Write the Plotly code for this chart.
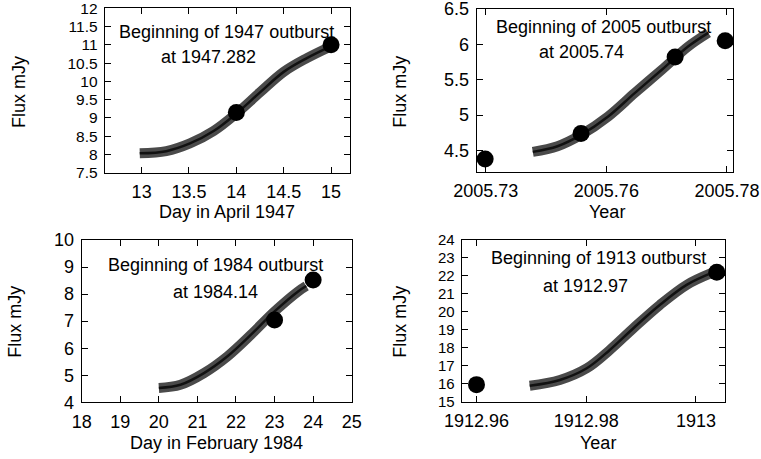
import plotly.graph_objects as go

# ---------------- data ----------------
# Panel 1: 1947
p1_obs_x = [14, 15]
p1_obs_y = [9.15, 11.0]
p1_mod_x = [12.98, 13.26, 13.51, 13.76, 14.0, 14.25, 14.5, 14.74, 14.99]
p1_mod_y = [8.03, 8.09, 8.30, 8.64, 9.12, 9.70, 10.26, 10.63, 10.95]
p1_xticks = [13, 13.5, 14, 14.5, 15]
p1_yticks = [7.5, 8, 8.5, 9, 9.5, 10, 10.5, 11, 11.5, 12]

# Panel 2: 2005
p2_obs_x = [2005.7349, 2005.7508, 2005.7664, 2005.7747]
p2_obs_y = [4.38, 4.74, 5.82, 6.05]
p2_mod_x = [2005.7428, 2005.7469, 2005.7508, 2005.7553, 2005.7597, 2005.7642, 2005.7686, 2005.7719]
p2_mod_y = [4.48, 4.56, 4.72, 4.98, 5.31, 5.64, 5.97, 6.16]
p2_xtickvals = [2005.735, 2005.755, 2005.775]
p2_xticktext = ["2005.73", "2005.76", "2005.78"]
p2_yticks = [4.5, 5, 5.5, 6, 6.5]

# Panel 3: 1984
p3_obs_x = [23, 24]
p3_obs_y = [7.04, 8.52]
p3_mod_x = [20.0, 20.56, 21.17, 21.78, 22.39, 23.0, 23.61, 23.82]
p3_mod_y = [4.53, 4.65, 5.08, 5.70, 6.50, 7.36, 8.10, 8.30]
p3_xticks = [18, 19, 20, 21, 22, 23, 24, 25]
p3_yticks = [4, 5, 6, 7, 8, 9, 10]

# Panel 4: 1913
p4_obs_x = [1912.96, 1913.0038]
p4_obs_y = [15.95, 22.2]
p4_mod_x = [1912.9697, 1912.9752, 1912.9801, 1912.9843, 1912.9886, 1912.9934, 1912.9983, 1913.0030]
p4_mod_y = [15.89, 16.21, 16.86, 17.88, 19.09, 20.38, 21.50, 22.18]
p4_xtickvals = [1912.96, 1912.98, 1913.0]
p4_xticktext = ["1912.96", "1912.98", "1913"]
p4_yticks = [15, 16, 17, 18, 19, 20, 21, 22, 23, 24]

W, H = 761, 459
FONT = "Liberation Sans, Arial, Helvetica, sans-serif"
FS = 18

def px(x):
    return x / W

def py(y):
    return 1 - y / H

panels = [
    dict(obs=(p1_obs_x, p1_obs_y), mod=(p1_mod_x, p1_mod_y),
         xdom=(104.7, 350), ydom=(8.3, 172.7), xr=[12.61, 15.2], yr=[7.5, 12],
         xtv=p1_xticks, xtt=[str(v) for v in p1_xticks], ytv=p1_yticks, yfs=15.5,
         xtitle="Day in April 1947", xt_pos=(226.7, 211.7), yt_pos=(18.3, 91.7),
         t1="Beginning of 1947 outburst", t1_pos=(226.7, 31.7),
         t2="at 1947.282", t2_pos=(208, 57.3)),
    dict(obs=(p2_obs_x, p2_obs_y), mod=(p2_mod_x, p2_mod_y),
         xdom=(476.7, 733), ydom=(8.8, 171.7), xr=[2005.7335, 2005.776], yr=[4.2, 6.5],
         xtv=p2_xtickvals, xtt=p2_xticktext, ytv=p2_yticks, yfs=18,
         xtitle="Year", xt_pos=(606.7, 211.7), yt_pos=(400, 91.7),
         t1="Beginning of 2005 outburst", t1_pos=(603, 26.7),
         t2="at 2005.74", t2_pos=(581.7, 52.3)),
    dict(obs=(p3_obs_x, p3_obs_y), mod=(p3_mod_x, p3_mod_y),
         xdom=(81.7, 351.7), ydom=(240, 402.3), xr=[18, 25], yr=[4, 10],
         xtv=p3_xticks, xtt=[str(v) for v in p3_xticks], ytv=p3_yticks, yfs=18,
         xtitle="Day in February 1984", xt_pos=(216.7, 443.3), yt_pos=(15, 321.7),
         t1="Beginning of 1984 outburst", t1_pos=(215, 265),
         t2="at 1984.14", t2_pos=(215, 291.7)),
    dict(obs=(p4_obs_x, p4_obs_y), mod=(p4_mod_x, p4_mod_y),
         xdom=(461.7, 725), ydom=(240, 401.7), xr=[1912.9573, 1913.0053], yr=[15, 24],
         xtv=p4_xtickvals, xtt=p4_xticktext, ytv=p4_yticks, yfs=15,
         xtitle="Year", xt_pos=(598.3, 443.3), yt_pos=(400, 321.7),
         t1="Beginning of 1913 outburst", t1_pos=(598.3, 258.3),
         t2="at 1912.97", t2_pos=(585, 285.7)),
]

fig = go.Figure()
annotations = []
layout_axes = {}
for i, p in enumerate(panels, start=1):
    xa = "x" if i == 1 else f"x{i}"
    ya = "y" if i == 1 else f"y{i}"
    xkey = "xaxis" if i == 1 else f"xaxis{i}"
    ykey = "yaxis" if i == 1 else f"yaxis{i}"
    # model band (thick hatched-looking band) + dark centre line
    fig.add_trace(go.Scatter(x=p["mod"][0], y=p["mod"][1], mode="lines",
                             line=dict(color="#4a4a4a", width=10, shape="spline", smoothing=1.0),
                             xaxis=xa, yaxis=ya, showlegend=False, hoverinfo="skip"))
    fig.add_trace(go.Scatter(x=p["mod"][0], y=p["mod"][1], mode="lines",
                             line=dict(color="#111111", width=2.5, shape="spline", smoothing=1.0),
                             xaxis=xa, yaxis=ya, showlegend=False, hoverinfo="skip"))
    fig.add_trace(go.Scatter(x=p["obs"][0], y=p["obs"][1], mode="markers",
                             marker=dict(color="black", size=17, symbol="circle"),
                             xaxis=xa, yaxis=ya, showlegend=False))
    common = dict(showline=True, linecolor="black", linewidth=1, mirror="allticks",
                  ticks="inside", ticklen=6, tickcolor="black", tickwidth=1,
                  showgrid=False, zeroline=False, automargin=False,
                  ticklabeloverflow="allow")
    layout_axes[xkey] = dict(common, domain=[px(p["xdom"][0]), px(p["xdom"][1])],
                             range=p["xr"], tickmode="array", tickvals=p["xtv"],
                             ticktext=p["xtt"], anchor=ya, ticklabelstandoff=3,
                             tickfont=dict(family=FONT, size=FS, color="black"))
    layout_axes[ykey] = dict(common, domain=[py(p["ydom"][1]), py(p["ydom"][0])],
                             range=p["yr"], tickmode="array", tickvals=p["ytv"],
                             ticktext=[f"{v:g}" for v in p["ytv"]], anchor=xa,
                             ticklabelstandoff=3,
                             tickfont=dict(family=FONT, size=p["yfs"], color="black"))
    f = dict(family=FONT, size=FS, color="black")
    annotations += [
        dict(text=p["xtitle"], x=px(p["xt_pos"][0]), y=py(p["xt_pos"][1]),
             xref="paper", yref="paper", showarrow=False, font=f,
             xanchor="center", yanchor="middle"),
        dict(text="Flux mJy", x=px(p["yt_pos"][0]), y=py(p["yt_pos"][1]),
             xref="paper", yref="paper", showarrow=False, font=f, textangle=-90,
             xanchor="center", yanchor="middle"),
        dict(text=p["t1"], x=px(p["t1_pos"][0]), y=py(p["t1_pos"][1]),
             xref="paper", yref="paper", showarrow=False, font=f,
             xanchor="center", yanchor="middle"),
        dict(text=p["t2"], x=px(p["t2_pos"][0]), y=py(p["t2_pos"][1]),
             xref="paper", yref="paper", showarrow=False, font=f,
             xanchor="center", yanchor="middle"),
    ]

fig.update_layout(width=W, height=H, margin=dict(l=0, r=0, t=0, b=0),
                  paper_bgcolor="white", plot_bgcolor="white",
                  annotations=annotations, **layout_axes)
fig.write_html("out.html", config={"displayModeBar": False},
               post_script="document.body.style.margin='0';document.body.style.overflow='hidden';")
